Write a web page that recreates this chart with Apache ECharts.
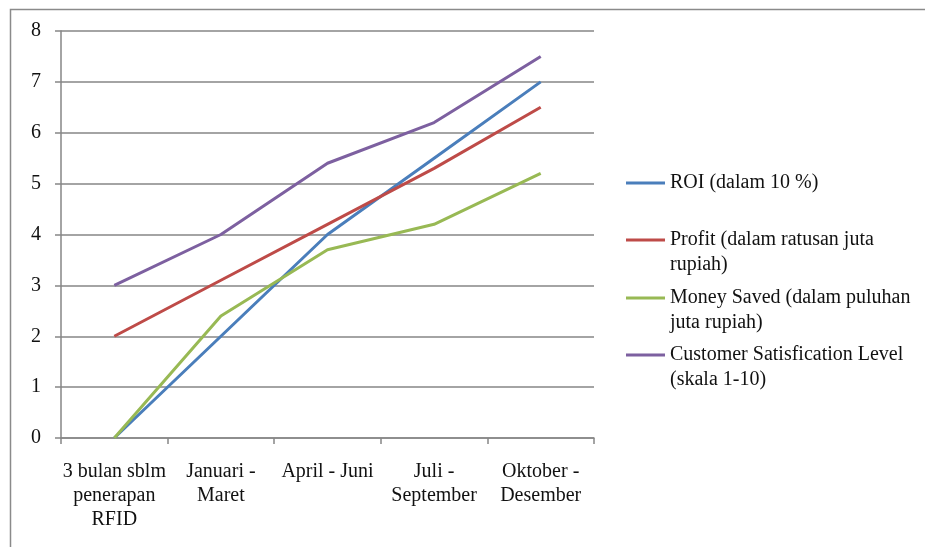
<!DOCTYPE html>
<html>
<head>
<meta charset="utf-8">
<script src="https://cdn.jsdelivr.net/npm/echarts@6/dist/echarts.min.js"></script>
<style>
  html, body { margin: 0; padding: 0; background: #fff; }
  #chart { width: 925px; height: 547px; }
</style>
</head>
<body>
<div id="chart"></div>
<script>
var categories = ['3 bulan sblm\npenerapan\nRFID', 'Januari -\nMaret', 'April - Juni', 'Juli -\nSeptember', 'Oktober -\nDesember'];
var roi = [0, 2, 4, 5.5, 7];
var profit = [2, 3.1, 4.2, 5.3, 6.5];
var moneySaved = [0, 2.4, 3.7, 4.2, 5.2];
var satisfaction = [3, 4, 5.4, 6.2, 7.5];
var seriesNames = [
  'ROI (dalam 10 %)',
  'Profit (dalam ratusan juta\nrupiah)',
  'Money Saved (dalam puluhan\njuta rupiah)',
  'Customer Satisfication Level\n(skala 1-10)'
];
var colors = ['#4A7EBB', '#BE4B48', '#98B954', '#7D60A0'];

var font = '"Liberation Serif", "DejaVu Serif", serif';
var chart = echarts.init(document.getElementById('chart'));

function mkSeries(i, data) {
  return {
    name: seriesNames[i],
    type: 'line',
    data: data,
    symbol: 'none',
    lineStyle: { width: 3, color: colors[i] },
    itemStyle: { color: colors[i] },
    animation: false
  };
}

// one legend per entry so the rows keep Excel's even spacing;
// two-line entries get an empty line on top so the swatch sits on the first text line
var legendTops = [170.5, 202.5, 260.5, 317.5];
var legends = seriesNames.map(function (n, i) {
  var twoLines = n.indexOf('\n') >= 0;
  return {
    data: [n],
    left: 626,
    top: legendTops[i],
    padding: 0,
    orient: 'vertical',
    icon: 'rect',
    itemWidth: 39,
    itemHeight: 3,
    itemGap: 0,
    formatter: function (name) { return twoLines ? ' \n' + name : name; },
    textStyle: { fontFamily: font, fontSize: 20, color: '#111', lineHeight: 25 },
    selectedMode: false
  };
});

var option = {
  backgroundColor: '#fff',
  color: colors,
  graphic: [{
    type: 'rect',
    shape: { x: 10.5, y: 9.5, width: 940, height: 560 },
    style: { fill: 'none', stroke: '#8a8a8a', lineWidth: 1.5 },
    silent: true
  }],
  legend: legends,
  grid: { left: 61, top: 31, right: 331, bottom: 109 },
  xAxis: {
    type: 'category',
    data: categories,
    boundaryGap: true,
    axisLine: { lineStyle: { color: '#868686', width: 1.5 } },
    axisTick: { show: true, length: 6, lineStyle: { color: '#868686', width: 1.5 } },
    axisLabel: { fontFamily: font, fontSize: 20, color: '#111', lineHeight: 24, margin: 22, interval: 0 }
  },
  yAxis: {
    type: 'value',
    min: 0,
    max: 8,
    interval: 1,
    axisLine: { show: true, lineStyle: { color: '#868686', width: 1.5 } },
    axisTick: { show: true, length: 6, lineStyle: { color: '#868686', width: 1.5 } },
    axisLabel: { fontFamily: font, fontSize: 20, color: '#111', margin: 20 },
    splitLine: { lineStyle: { color: '#868686', width: 1.5 } }
  },
  series: [
    mkSeries(0, roi),
    mkSeries(1, profit),
    mkSeries(2, moneySaved),
    mkSeries(3, satisfaction)
  ]
};
chart.setOption(option);
</script>
</body>
</html>
